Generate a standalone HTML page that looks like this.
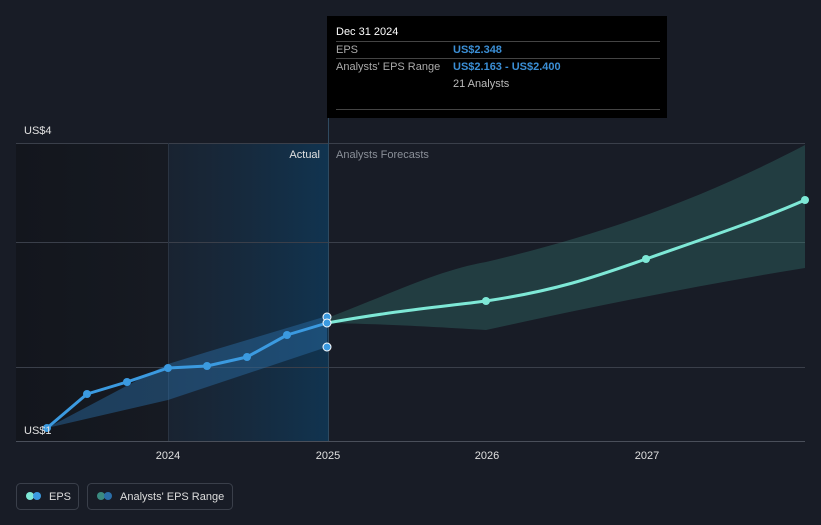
<!DOCTYPE html>
<html><head><style>
body{margin:0;background:#181c26;width:821px;height:520px;overflow:hidden;font-family:"Liberation Sans",sans-serif;}
</style></head><body>
<svg width="821" height="520" xmlns="http://www.w3.org/2000/svg" font-family="Liberation Sans, sans-serif">
<defs>
<linearGradient id="ga" x1="0" x2="1" y1="0" y2="0"><stop offset="0" stop-color="#1a2a3c" stop-opacity="0.5"/><stop offset="1" stop-color="#103552" stop-opacity="0.95"/></linearGradient>
<linearGradient id="gd" x1="0" x2="1"><stop offset="0" stop-color="#13161d"/><stop offset="1" stop-color="#161a22"/></linearGradient>
</defs>
<rect width="821" height="520" fill="#181c26"/>
<rect x="16" y="143" width="152" height="299" fill="url(#gd)"/>
<rect x="168" y="143" width="160" height="299" fill="url(#ga)"/>
<g stroke="#3a3f4a" stroke-width="1">
<line x1="16" x2="805" y1="143.5" y2="143.5"/>
<line x1="16" x2="805" y1="242.5" y2="242.5"/>
<line x1="16" x2="805" y1="367.5" y2="367.5"/>
<line x1="16" x2="805" y1="441.5" y2="441.5" stroke="#4a4f5a"/>
<line x1="168.5" x2="168.5" y1="143" y2="441" stroke="#2a3442"/>
<line x1="328.5" x2="328.5" y1="20" y2="441" stroke="#2f4a60"/>
</g>
<path d="M47,428 L168,364 L207,352 L327,316 L327,347 L168,400 Z" fill="#2a6ea8" opacity="0.45"/>
<path d="M327,318 C400,290 440,270 486,262 C600,235 700,200 805,145 L805,268 C700,285 600,305 486,330 C420,326 380,324 327,323 Z" fill="#3a8a80" opacity="0.3"/>
<polyline points="47,428 87,394 127,382 168,368 207,366 247,357 287,335 327,323" fill="none" stroke="#3b9ae0" stroke-width="3" stroke-linejoin="round"/>
<path d="M327,323 C400,310 440,307 486,301 C560,290 600,275 646,259 C700,240 760,220 805,200" fill="none" stroke="#7ee8d6" stroke-width="3"/>
<g fill="#3b9ae0"><circle cx="47" cy="428" r="4"/><circle cx="87" cy="394" r="4"/><circle cx="127" cy="382" r="4"/><circle cx="168" cy="368" r="4"/><circle cx="207" cy="366" r="4"/><circle cx="247" cy="357" r="4"/><circle cx="287" cy="335" r="4"/></g>
<g fill="#3b9ae0" stroke="#fff" stroke-width="1"><circle cx="327" cy="317" r="4"/><circle cx="327" cy="323" r="4"/><circle cx="327" cy="347" r="4"/></g>
<g fill="#7ee8d6"><circle cx="486" cy="301" r="4"/><circle cx="646" cy="259" r="4"/><circle cx="805" cy="200" r="4"/></g>
<g font-size="11" fill="#e0e0e0">
<text x="24" y="134">US$4</text>
<text x="24" y="434">US$1</text>
<text x="320" y="158" text-anchor="end">Actual</text>
<text x="336" y="158" fill="#8a8f98">Analysts Forecasts</text>
<text x="168" y="459" text-anchor="middle">2024</text>
<text x="328" y="459" text-anchor="middle">2025</text>
<text x="487" y="459" text-anchor="middle">2026</text>
<text x="647" y="459" text-anchor="middle">2027</text>
</g>
<rect x="327" y="16" width="340" height="102" fill="#000"/>
<g stroke="#444" ><line x1="336" x2="660" y1="41.5" y2="41.5"/><line x1="336" x2="660" y1="58.5" y2="58.5"/><line x1="336" x2="660" y1="109.5" y2="109.5"/></g>
<g font-size="11">
<text x="336" y="35" fill="#fff">Dec 31 2024</text>
<text x="336" y="53" fill="#aaa">EPS</text>
<text x="453" y="53" fill="#3b8fd6" font-weight="bold">US$2.348</text>
<text x="336" y="70" fill="#aaa">Analysts' EPS Range</text>
<text x="453" y="70" fill="#3b8fd6" font-weight="bold">US$2.163 - US$2.400</text>
<text x="453" y="87" fill="#bbb">21 Analysts</text>
</g>
<rect x="16.5" y="483.5" width="62" height="26" rx="4" fill="none" stroke="#3a3f4a"/>
<circle cx="30" cy="496" r="4" fill="#7ee8d6"/><circle cx="37" cy="496" r="4" fill="#3b9ae0"/>
<text x="49" y="500" font-size="11" fill="#ddd">EPS</text>
<rect x="87.5" y="483.5" width="145" height="26" rx="4" fill="none" stroke="#3a3f4a"/>
<circle cx="101" cy="496" r="4" fill="#3a8a80"/><circle cx="108" cy="496" r="4" fill="#2a6ea8"/>
<text x="120" y="500" font-size="11" fill="#ddd">Analysts' EPS Range</text>
</svg>
</body></html>
